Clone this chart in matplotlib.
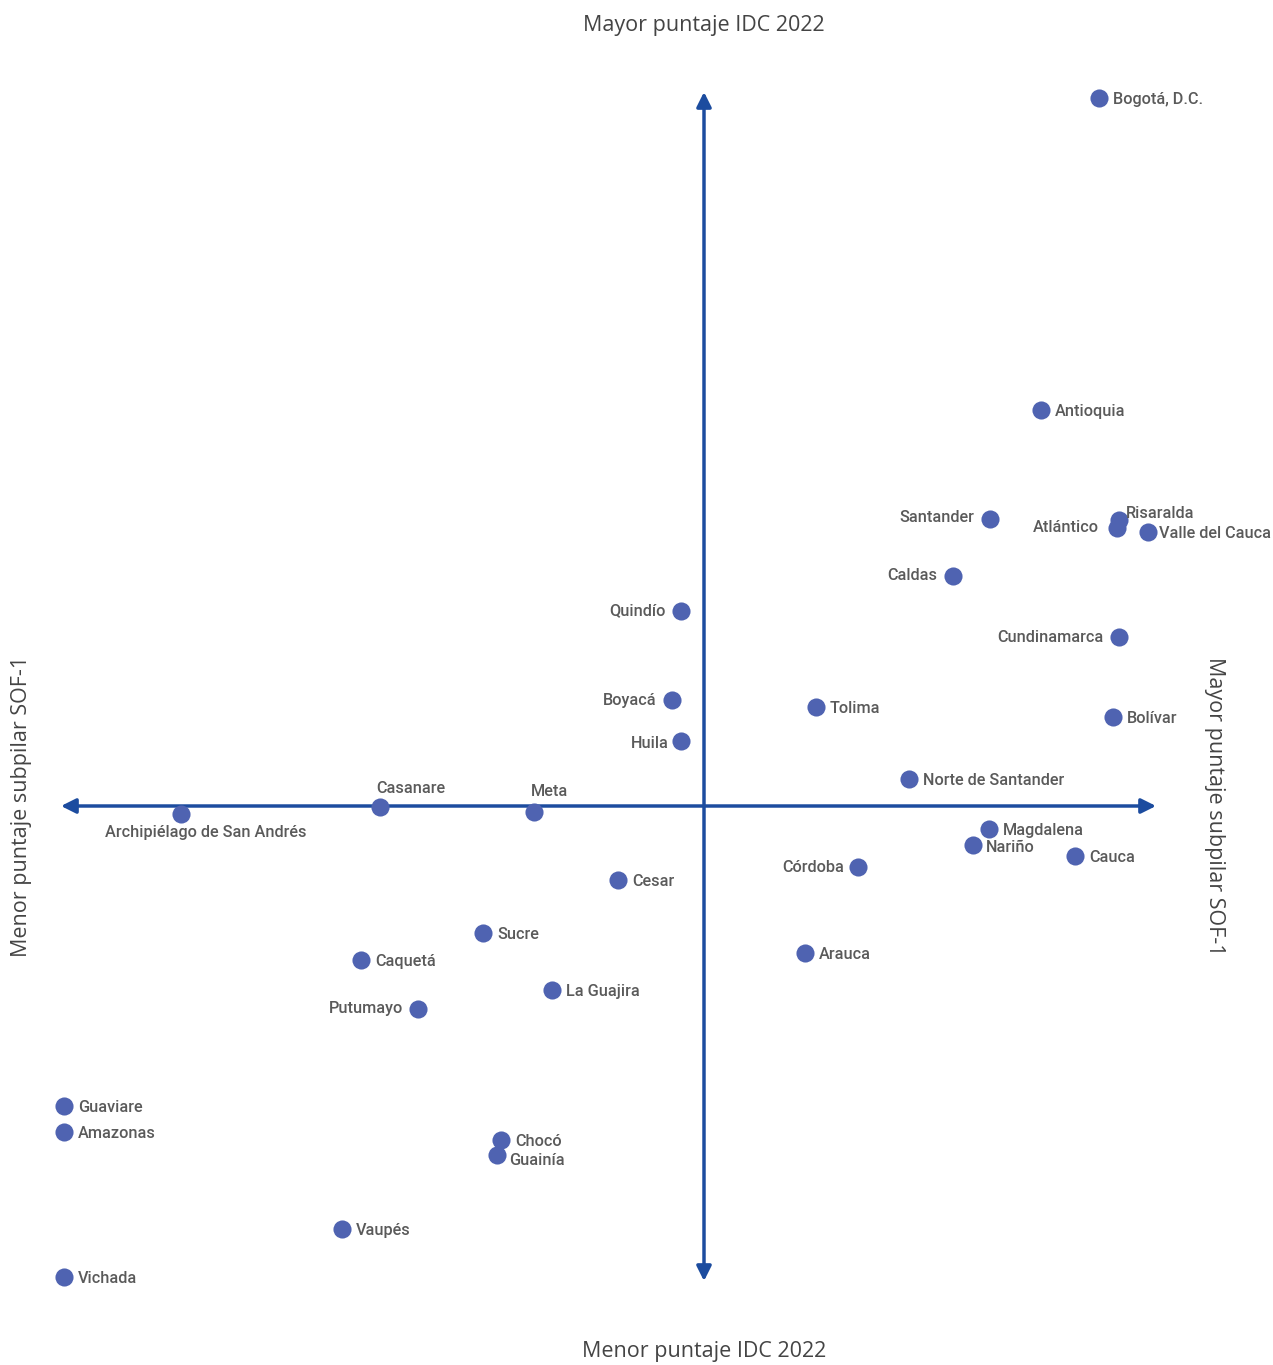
import numpy as np
import matplotlib.pyplot as plt

# department scores (arbitrary units, origin at quadrant cross)
names = ["Bogotá, D.C.", "Antioquia", "Santander", "Risaralda", "Atlántico",
         "Valle del Cauca", "Caldas", "Quindío", "Cundinamarca", "Boyacá",
         "Tolima", "Bolívar", "Huila", "Norte de Santander", "Casanare", "Meta",
         "Archipiélago de San Andrés", "Magdalena", "Nariño", "Cauca", "Córdoba",
         "Cesar", "Sucre", "Arauca", "Caquetá", "La Guajira", "Putumayo",
         "Guaviare", "Amazonas", "Chocó", "Guainía", "Vaupés", "Vichada"]
idc = [39.5, 33.7, 28.6, 41.5, 41.3, 44.4, 24.9, -2.3, 41.5, -3.2,
       11.2, 40.9, -2.3, 20.5, -32.4, -17.0, -52.3, 28.5, 26.9, 37.1, 15.4,
       -8.6, -22.1, 10.1, -34.3, -15.2, -28.6, -64.0, -64.0, -20.3, -20.7, -36.2, -64.0]
sof = [70.8, 39.6, 28.7, 28.6, 27.8, 27.4, 23.0, 19.5, 16.9, 10.6,
       9.9, 8.9, 6.5, 2.7, -0.1, -0.6, -0.8, -2.3, -3.9, -5.0, -6.1,
       -7.4, -12.7, -14.7, -15.4, -18.4, -20.3, -30.0, -32.6, -33.4, -34.9, -42.3, -47.1]
# label placement: (dx, dy) in points, horizontal alignment
place = {
    "Santander": (-11, 1, "right"), "Atlántico": (-13, 0, "right"),
    "Caldas": (-11, 0, "right"), "Quindío": (-11, 0, "right"),
    "Cundinamarca": (-11, 0, "right"), "Boyacá": (-11, 0, "right"),
    "Huila": (-9, -2, "right"), "Córdoba": (-10, 0, "right"),
    "Putumayo": (-11, 0, "right"), "Risaralda": (5, 5, "left"),
    "Nariño": (9, -2, "left"), "Guainía": (9, -4, "left"),
    "Casanare": (-3, 13, "left"), "Meta": (-2, 15, "left"),
    "Valle del Cauca": (8, -1, "left"),
}

point_color = "#4F63B1"
axis_color = "#1C4C9F"
text_color = "#5a5a5a"

fig = plt.figure(figsize=(12.73, 13.65), dpi=100)
ax = fig.add_axes([0, 0, 1, 1])
ax.set_xlim(-70.4, 56.9)
ax.set_ylim(-55.9, 80.6)
ax.axis("off")

arrow = dict(arrowstyle="<|-|>", color=axis_color, lw=2.5, mutation_scale=22,
             shrinkA=0, shrinkB=0)
ax.annotate("", xy=(-64.3, 0), xytext=(45.2, 0), arrowprops=arrow)
ax.annotate("", xy=(0, -47.5), xytext=(0, 71.4), arrowprops=arrow)

ax.scatter(idc, sof, s=170, color=point_color, zorder=3, linewidths=0)

for n, x, y in zip(names, idc, sof):
    if n == "Archipiélago de San Andrés":
        ax.annotate(n, (x, y), xytext=(18, -13), textcoords="offset points",
                    ha="center", va="center", fontsize=11.7, color=text_color,
                    family="Roboto", fontweight="medium")
        continue
    dx, dy, ha = place.get(n, (10, -1, "left"))
    ax.annotate(n, (x, y), xytext=(dx, dy), textcoords="offset points",
                ha=ha, va="center", fontsize=11.7, color=text_color,
                family="Roboto", fontweight="medium")

tkw = dict(fontsize=15.5, color="#444444", family="Open Sans",
           ha="center", va="center", transform=fig.transFigure)
fig.text(0.553, 1 - 26 / 1365, "Mayor puntaje IDC 2022", **tkw)
fig.text(0.553, 1 - 1351 / 1365, "Menor puntaje IDC 2022", **tkw)
fig.text(22 / 1273, 1 - 806 / 1365, "Menor puntaje subpilar SOF-1", rotation=90, **tkw)
fig.text(1215 / 1273, 1 - 806 / 1365, "Mayor puntaje subpilar SOF-1", rotation=-90, **tkw)

fig.savefig("out.png", dpi=100, facecolor="white")
